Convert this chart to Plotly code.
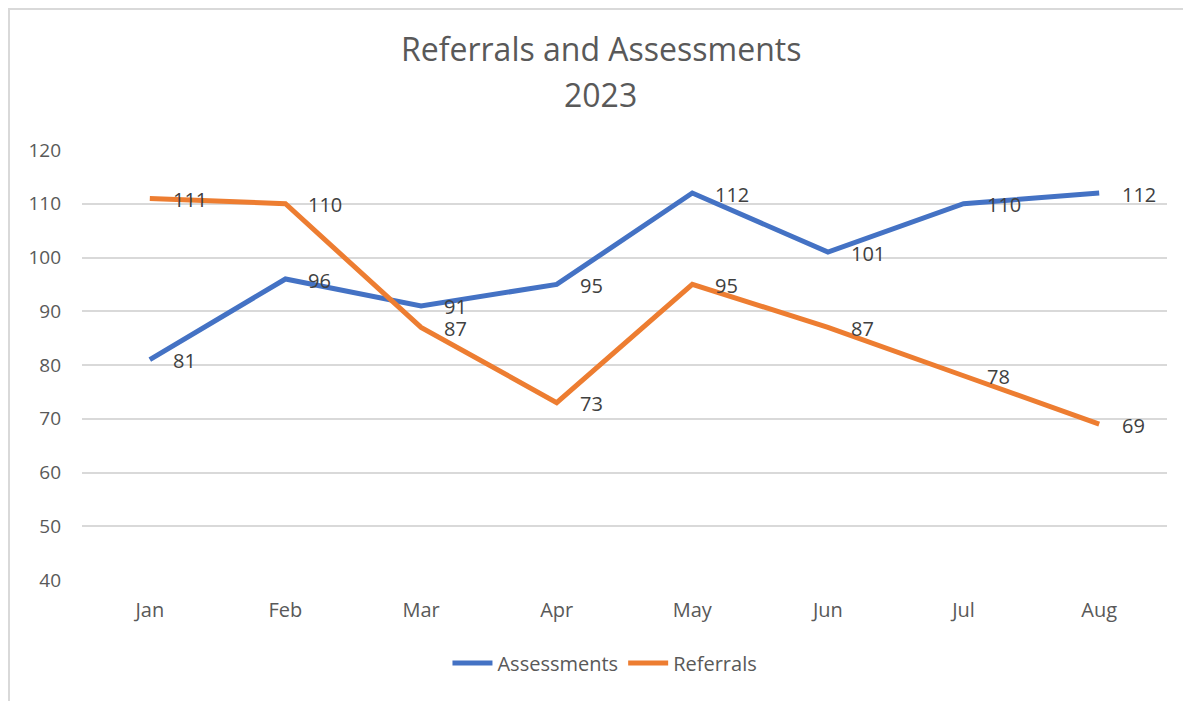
import plotly.graph_objects as go

months = ["Jan", "Feb", "Mar", "Apr", "May", "Jun", "Jul", "Aug"]
assessments = [81, 96, 91, 95, 112, 101, 110, 112]
referrals = [111, 110, 87, 73, 95, 87, 78, 69]

title_line1 = "Referrals and Assessments"
title_line2 = "2023"

BLUE = "#4472C4"
ORANGE = "#ED7D31"
GRID = "#D9D9D9"
TEXT = "#595959"
LABEL = "#404040"
FONT = "Open Sans"

fig = go.Figure()
fig.add_trace(go.Scatter(x=months, y=assessments, name="Assessments", mode="lines",
                         line=dict(color=BLUE, width=5)))
fig.add_trace(go.Scatter(x=months, y=referrals, name="Referrals", mode="lines",
                         line=dict(color=ORANGE, width=5)))

# data labels to the right of each point
annotations = []
for series in (assessments, referrals):
    for m, v in zip(months, series):
        annotations.append(dict(x=m, y=v, text=str(v), showarrow=False,
                                xanchor="left", yanchor="middle", xshift=21, yshift=-1,
                                font=dict(family=FONT, size=20, color=LABEL)))

# two-line title, Excel spacing
annotations.append(dict(x=0.478, y=1.237, xref="paper", yref="paper", text=title_line1,
                        showarrow=False, xanchor="center", yanchor="middle",
                        font=dict(family=FONT, size=32, color=TEXT)))
annotations.append(dict(x=0.478, y=1.128, xref="paper", yref="paper", text=title_line2,
                        showarrow=False, xanchor="center", yanchor="middle",
                        font=dict(family=FONT, size=32, color=TEXT)))

# page body adds an 8px offset top/left, so shrink the figure by that much
fig.update_layout(
    width=1183, height=693,
    margin=dict(l=74, r=24, t=142, b=121),
    paper_bgcolor="white", plot_bgcolor="white",
    font=dict(family=FONT, size=19, color=TEXT),
    annotations=annotations,
    showlegend=True,
    legend=dict(orientation="h", x=0.482, xanchor="center", y=-0.193, yanchor="middle",
                font=dict(family=FONT, size=20, color=TEXT), itemwidth=40,
                traceorder="normal"),
    shapes=[dict(type="rect", xref="paper", yref="paper",
                 x0=-0.0673, y0=-0.5, x1=1.2, y1=1.3279,
                 line=dict(color=GRID, width=2), fillcolor="rgba(0,0,0,0)", layer="below")],
)

fig.update_xaxes(type="category", range=[-0.5, 7.5], showgrid=False, showline=False,
                 zeroline=False, ticks="", ticklabelstandoff=16,
                 tickfont=dict(family=FONT, size=20, color=TEXT))
fig.update_yaxes(range=[40, 120], dtick=10, showgrid=True, gridcolor=GRID, gridwidth=1.5,
                 zeroline=False, showline=False, ticks="", ticklabelstandoff=20,
                 tickfont=dict(family=FONT, size=19, color=TEXT))

fig.write_html("out.html")
